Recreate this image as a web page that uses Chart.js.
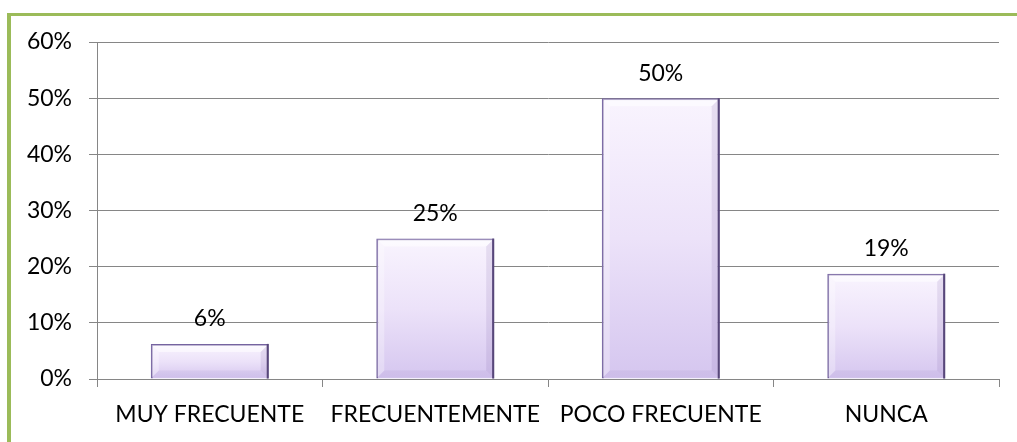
<!DOCTYPE html>
<html>
<head>
<meta charset="utf-8">
<script src="https://cdn.jsdelivr.net/npm/chart.js@4.4.1/dist/chart.umd.min.js"></script>
<style>
  html, body { margin: 0; padding: 0; background: #fff; }
  #wrap { position: relative; width: 1017px; height: 442px; overflow: hidden; }
  #frame {
    position: absolute; left: 7px; top: 13px; width: 1100px; height: 500px;
    border-top: 3px solid #9bbb59; border-left: 4px solid #9bbb59;
  }
  #myChart { position: absolute; left: 0; top: 0; }
</style>
</head>
<body>
<div id="wrap">
  <div id="frame"></div>
  <canvas id="myChart" width="1017" height="442"></canvas>
</div>
<script>
const categories = ["MUY FRECUENTE", "FRECUENTEMENTE", "POCO FRECUENTE", "NUNCA"];
const values = [6.25, 25, 50, 18.75];
const yTicks = [0, 10, 20, 30, 40, 50, 60];

const FONT = "Lato";
const gridColor = "#868686";

// per-bar vertical gradient, light at top
function barFill(ctx) {
  const chart = ctx.chart;
  if (!chart.chartArea || ctx.raw === undefined) return "#e4dbf5";
  const y = chart.scales.y;
  const top = y.getPixelForValue(ctx.raw);
  const bottom = y.getPixelForValue(0);
  const g = chart.ctx.createLinearGradient(0, top, 0, bottom);
  g.addColorStop(0, "#f9f4fe");
  g.addColorStop(0.5, "#ece2f9");
  g.addColorStop(1, "#d5c6ef");
  return g;
}

// soft bevel on the bars: light top/left, darker right/bottom
const bevel = {
  id: "bevel",
  afterDatasetsDraw(chart) {
    const c = chart.ctx;
    c.save();
    chart.getDatasetMeta(0).data.forEach(bar => {
      const l = bar.x - bar.width / 2 + 1, r = bar.x + bar.width / 2 - 1;
      const t = bar.y + 1, b = bar.base - 1;
      const d = 7;
      c.fillStyle = "rgba(255,255,255,0.55)";
      c.beginPath();
      c.moveTo(l, t); c.lineTo(r, t); c.lineTo(r - d, t + d); c.lineTo(l + d, t + d); c.closePath();
      c.fill();
      c.fillStyle = "rgba(255,255,255,0.3)";
      c.beginPath();
      c.moveTo(l, t); c.lineTo(l + d, t + d); c.lineTo(l + d, b - d); c.lineTo(l, b); c.closePath();
      c.fill();
      c.fillStyle = "rgba(120,95,165,0.14)";
      c.beginPath();
      c.moveTo(r, t); c.lineTo(r, b); c.lineTo(r - d, b - d); c.lineTo(r - d, t + d); c.closePath();
      c.fill();
      c.fillStyle = "rgba(120,95,165,0.08)";
      c.beginPath();
      c.moveTo(l, b); c.lineTo(r, b); c.lineTo(r - d, b - d); c.lineTo(l + d, b - d); c.closePath();
      c.fill();
      c.strokeStyle = "#58477a";
      c.lineWidth = 2;
      c.beginPath();
      c.moveTo(r, t - 1); c.lineTo(r, b + 1);
      c.stroke();
    });
    c.restore();
  }
};

const valueLabels = {
  id: "valueLabels",
  afterDatasetsDraw(chart) {
    const c = chart.ctx;
    const meta = chart.getDatasetMeta(0);
    c.save();
    c.font = "23px " + FONT;
    c.fillStyle = "#000";
    c.textAlign = "center";
    c.textBaseline = "middle";
    meta.data.forEach((bar, i) => {
      c.fillText(Math.round(values[i]) + "%", bar.x, bar.y - 25);
    });
    c.restore();
  }
};

new Chart(document.getElementById("myChart"), {
  type: "bar",
  data: {
    labels: categories,
    datasets: [{
      data: values,
      backgroundColor: barFill,
      borderColor: "#7563a0",
      borderWidth: 2,
      barPercentage: 0.523,
      categoryPercentage: 1
    }]
  },
  options: {
    responsive: false,
    animation: false,
    layout: { padding: { top: 42, right: 18, left: 0, bottom: 0 } },
    plugins: { legend: { display: false }, tooltip: { enabled: false } },
    scales: {
      x: {
        grid: { display: true, drawOnChartArea: false, drawTicks: true, tickLength: 8, color: gridColor, offset: true },
        border: { display: true, color: gridColor },
        ticks: { color: "#000", font: { family: FONT, size: 23 }, padding: 14, maxRotation: 0, autoSkip: false },
        afterFit(scale) { scale.height = 63; }
      },
      y: {
        min: 0, max: 60,
        afterBuildTicks(scale) { scale.ticks = yTicks.map(v => ({ value: v })); },
        grid: { color: gridColor, tickLength: 8 },
        border: { display: true, color: gridColor },
        ticks: { color: "#000", font: { family: FONT, size: 23 }, padding: 17, callback: v => v + "%" },
        afterFit(scale) { scale.width = 97; }
      }
    }
  },
  plugins: [bevel, valueLabels]
});
</script>
</body>
</html>
